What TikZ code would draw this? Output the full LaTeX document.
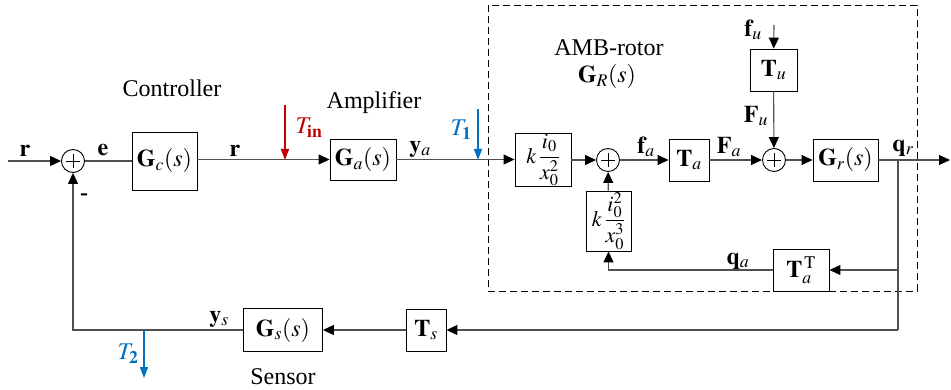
\documentclass[tikz,border=0pt]{standalone}
\usepackage{mathptmx}
\usepackage{fontspec}
\setmainfont{Liberation Serif}
\usetikzlibrary{arrows.meta}
\definecolor{tred}{RGB}{192,0,0}
\definecolor{tblue}{RGB}{0,112,192}
\definecolor{lgray}{RGB}{80,80,80}
\begin{document}
\begin{tikzpicture}[x=1pt,y=-1pt,
  every node/.style={font=\fontsize{24}{28}\selectfont, inner sep=0pt},
  blk/.style={draw, line width=0.9pt, fill=white},
  sumc/.style={circle, draw, line width=0.9pt, minimum size=23pt, inner sep=0pt},
  wire/.style={draw=lgray, line width=1.1pt},
  arr/.style={wire, -{Triangle[length=11pt,width=10pt,color=black]}},
  redarr/.style={draw=tred, line width=1.3pt, -{Triangle[length=11pt,width=8pt]}},
  bluearr/.style={draw=tblue, line width=1.3pt, -{Triangle[length=11pt,width=8pt]}},
  frac/.style={font=\fontsize{22}{26}\selectfont},
  lbl/.style={anchor=center}]
\useasboundingbox (0,0) rectangle (951,390);
% dashed AMB-rotor frame
\draw[dashed, line width=0.9pt, dash pattern=on 7pt off 4pt] (488,5) rectangle (917,291);
% blocks
\node[blk, minimum width=65pt, minimum height=58pt] (Gc) at (164.5,161) {$\mathbf{G}_c(s)$};
\node[blk, minimum width=66pt, minimum height=41pt] (Ga) at (363,159.5) {$\mathbf{G}_a(s)$};
\node[blk, frac, minimum width=56pt, minimum height=52pt] (K1) at (543,160) {$k\,{\displaystyle\frac{i_0}{x_0^2}}$};
\node[blk, frac, minimum width=45pt, minimum height=60pt] (K2) at (608.5,221) {$k\,{\displaystyle\frac{i_0^2}{x_0^3}}$};
\node[blk, minimum width=40pt, minimum height=42pt] (Ta) at (689,160) {$\mathbf{T}_a$};
\node[blk, minimum width=47pt, minimum height=42pt] (Tu) at (773.5,70) {$\mathbf{T}_u$};
\node[blk, minimum width=65pt, minimum height=42pt] (Gr) at (845.5,160) {$\mathbf{G}_r(s)$};
\node[blk, minimum width=56pt, minimum height=42pt] (TaT) at (801,270) {$\mathbf{T}_a^{\,\mathrm{T}}$};
\node[blk, minimum width=40pt, minimum height=42pt] (Ts) at (426,330) {$\mathbf{T}_s$};
\node[blk, minimum width=79pt, minimum height=43pt] (Gs) at (283,330) {$\mathbf{G}_s(s)$};
% summing junctions
\node[sumc] (s1) at (73,161) {};
\node[sumc] (s2) at (608,160) {};
\node[sumc] (s3) at (774,160) {};
\foreach \s in {s1,s2,s3}{
  \draw[line width=0.8pt] ([xshift=-7pt]\s.center) -- ([xshift=7pt]\s.center);
  \draw[line width=0.8pt] ([yshift=-7pt]\s.center) -- ([yshift=7pt]\s.center);
}
% free-end coordinates
\coordinate (rin) at (8,161);
\coordinate (out) at (950,160);
\coordinate (br) at (898,160);
\coordinate (brd) at (898,330);
\coordinate (fu) at (774,25);
\coordinate (tinS) at (285,105);
\coordinate (tinE) at (285,160);
\coordinate (t1S) at (478,109);
\coordinate (t1E) at (478,160);
\coordinate (t2S) at (144,330);
\coordinate (t2E) at (144,378);
% connectors
\draw[arr] (rin) -- (s1);
\draw[wire] (s1) -- (Gc.west |- s1);
\draw[arr] (Gc.east |- Ga) -- (Ga);
\draw[arr] (Ga) -- (K1.west |- Ga);
\draw[arr] (K1) -- (s2);
\draw[arr] (K2) -- (s2);
\draw[arr] (s2) -- (Ta);
\draw[arr] (Ta) -- (s3);
\draw[arr] (Tu) -- (s3);
\draw[arr] (fu) -- (Tu);
\draw[arr] (s3) -- (Gr);
\draw[arr] (Gr) -- (out);
\draw[wire] (br) -- (brd);
\draw[arr] (TaT -| br) -- (TaT);
\draw[arr] (TaT) -| (K2);
\draw[arr] (brd) -- (Ts);
\draw[arr] (Ts) -- (Gs);
\draw[arr] (Gs) -| (s1);
\draw[redarr] (tinS) -- (tinE);
\draw[bluearr] (t1S) -- (t1E);
\draw[bluearr] (t2S) -- (t2E);
% labels
\node[lbl] (lr1) at (25,151) {$\mathbf{r}$};
\node[lbl] (le) at (103,150) {$\mathbf{e}$};
\node[lbl] (lr2) at (235,151) {$\mathbf{r}$};
\node[lbl] (lminus) at (84,197) {\textbf{-}};
\node[lbl] (lctrl) at (172,88) {Controller};
\node[lbl] (lamp) at (374,103) {Amplifier};
\node[lbl, text=tred] (ltin) at (309,128) {$T_{\mathbf{in}}$};
\node[lbl, text=tblue] (lt1) at (461,130) {$T_{\mathbf{1}}$};
\node[lbl, text=tblue] (lt2) at (128,354) {$T_{\mathbf{2}}$};
\node[lbl] (lya) at (420,149) {$\mathbf{y}_a$};
\node[lbl] (lamb) at (609,48) {AMB-rotor};
\node[lbl] (lGR) at (607,77) {$\mathbf{G}_R(s)$};
\node[lbl] (lfa) at (646,147) {$\mathbf{f}_a$};
\node[lbl] (lFa) at (729,147) {$\mathbf{F}_a$};
\node[lbl] (lFu) at (756,116) {$\mathbf{F}_u$};
\node[lbl] (lfu) at (753,30) {$\mathbf{f}_u$};
\node[lbl] (lqr) at (903,148) {$\mathbf{q}_r$};
\node[lbl] (lqa) at (738,261) {$\mathbf{q}_a$};
\node[lbl] (lys) at (219,319) {$\mathbf{y}_s$};
\node[lbl] (lsens) at (283,377) {Sensor};
\end{tikzpicture}
\end{document}
